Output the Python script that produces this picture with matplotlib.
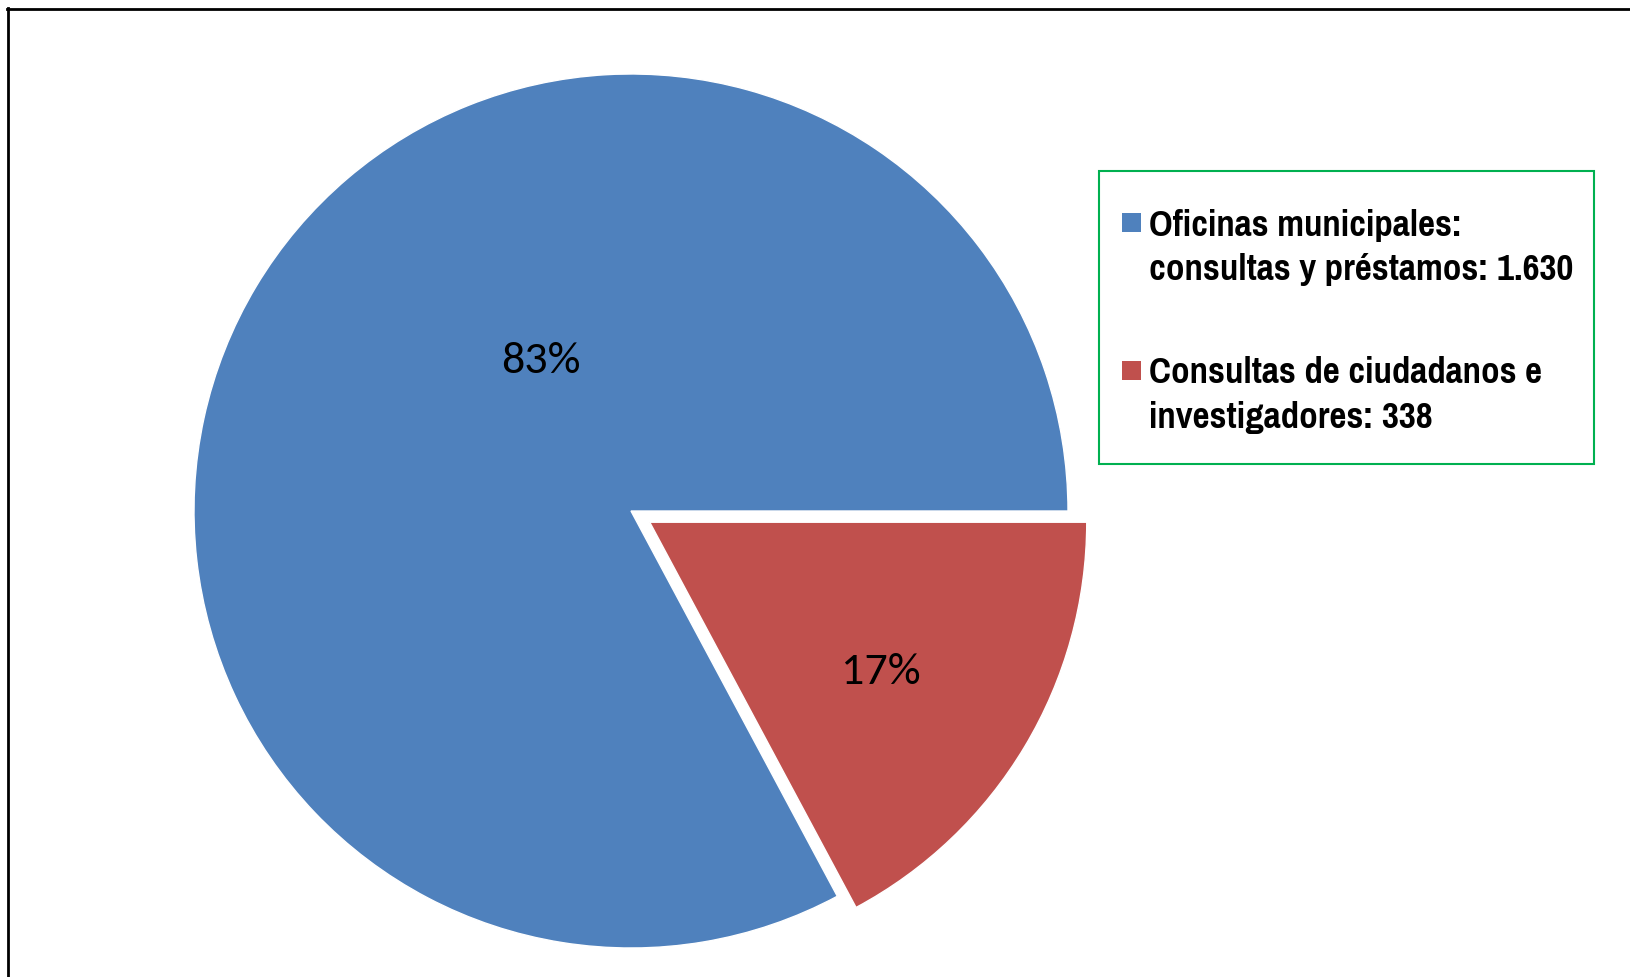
import matplotlib.pyplot as plt
from matplotlib.lines import Line2D
from matplotlib.patches import Rectangle
import numpy as np

# data
labels = ['Oficinas municipales:\nconsultas y préstamos: 1.630',
          'Consultas de ciudadanos e\ninvestigadores: 338']
values = [1630, 338]
colors = ['#4F81BD', '#C0504D']
explode = [0, 0.05]

W, H = 1630, 977
fig = plt.figure(figsize=(W / 100, H / 100), dpi=100)

# pie axes: center at (631, 511) px from top-left, radius 437 px
cx, cy, r = 631, H - 511, 437
ax = fig.add_axes([(cx - 480) / W, (cy - 466) / H, 960 / W, 932 / H])
wedges, texts, autotexts = ax.pie(values, colors=colors, explode=explode,
                                  startangle=0, counterclock=True,
                                  autopct='%1.0f%%', pctdistance=0.63,
                                  wedgeprops=dict(edgecolor='white', linewidth=1),
                                  textprops=dict(family=['Carlito', 'DejaVu Sans'],
                                                 fontsize=33, color='black'))
ax.set_xlim(-480 / r, 480 / r)
ax.set_ylim(-466 / r, 466 / r)
ax.set_aspect('equal')
ax.axis('off')

# Excel-like label spots (angle in degrees, distance from pie centre)
label_spots = [(121, 0.40), (-32.7, 0.68)]
for t, (a, d) in zip(autotexts, label_spots):
    a = np.deg2rad(a)
    t.set_position((d * np.cos(a), d * np.sin(a)))

# legend drawn by hand, handle at first line
legend_font = ['Pragati Narrow', 'DejaVu Sans']
fig.add_artist(Rectangle((1099 / W, 1 - 464 / H), 495 / W, 293 / H,
                         transform=fig.transFigure, fill=False,
                         edgecolor='#00B050', linewidth=1.5))
first_lines = [222, 370]
for lab, col, y0 in zip(labels, colors, first_lines):
    fig.add_artist(Rectangle((1122 / W, 1 - (y0 + 9.5) / H), 19 / W, 19 / H,
                             transform=fig.transFigure, facecolor=col,
                             edgecolor='none'))
    for k, line in enumerate(lab.split('\n')):
        fig.text(1149 / W, 1 - (y0 + 44 * k) / H, line, ha='left', va='center_baseline',
                 family=legend_font, fontweight='bold', fontsize=29)

# outer frame (top and left only visible)
fig.add_artist(Line2D([7 / W, 1], [1 - 8.5 / H, 1 - 8.5 / H],
                      transform=fig.transFigure, color='black', linewidth=2))
fig.add_artist(Line2D([7.5 / W, 7.5 / W], [0, 1 - 8 / H],
                      transform=fig.transFigure, color='black', linewidth=2))

fig.savefig('out.png', dpi=100)
